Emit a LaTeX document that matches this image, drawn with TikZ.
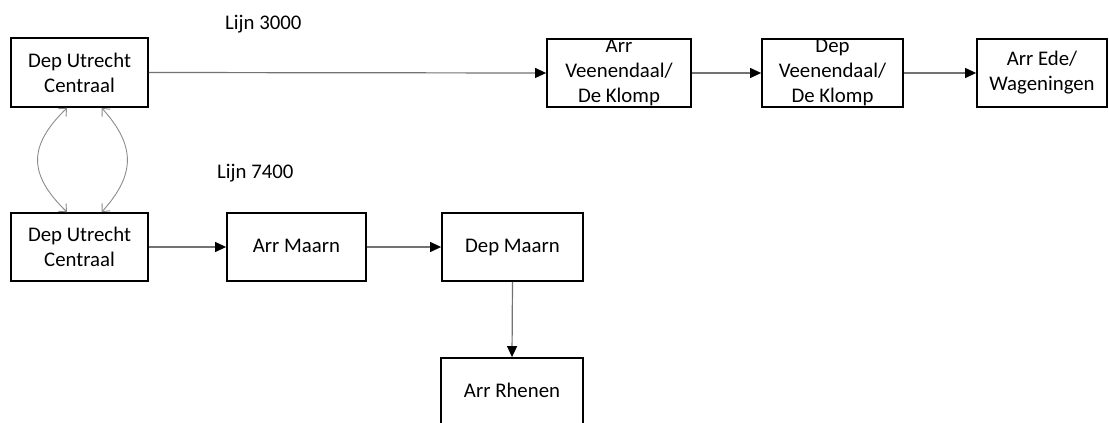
\documentclass[tikz,border=0pt]{standalone}
\usepackage{fontspec}
\setmainfont{Carlito}
\usetikzlibrary{arrows.meta,calc}
\begin{document}
\begin{tikzpicture}[x=1pt,y=-1pt,
  every node/.style={font=\fontsize{20.8}{25}\selectfont},
  stbox/.style={draw=black, line width=1.8pt, minimum height=68pt, inner sep=0pt, align=center},
  flow/.style={draw=black!55, line width=1.2pt, -{Triangle[length=11pt,width=10pt,color=black]}},
  link/.style={draw=black!45, line width=0.9pt, {Straight Barb[length=6pt,width=11pt]}-{Straight Barb[length=6pt,width=11pt]}},
  lbl/.style={anchor=base west, inner sep=0pt}]
\clip (0,0) rectangle (1109,423);
\fill[white] (0,0) rectangle (1109,423);

\node[stbox, minimum width=137pt, minimum height=69pt] (uc1) at (79.5,72.5) {Dep Utrecht\\Centraal};
\node[stbox, minimum width=144pt] (av) at (619,73) {Arr\\Veenendaal/\\De Klomp};
\node[stbox, minimum width=141pt] (dv) at (832.5,73) {Dep\\Veenendaal/\\De Klomp};
\node[stbox, minimum width=130pt] (ae) at (1042,73) {Arr Ede/\\Wageningen};

\node[stbox, minimum width=137pt] (uc2) at (79.5,247) {Dep Utrecht\\Centraal};
\node[stbox, minimum width=139pt] (am) at (296.5,247) {\strut Arr Maarn};
\node[stbox, minimum width=141pt] (dm) at (512.5,247) {\strut Dep Maarn};
\node[stbox, minimum width=142pt] (ar) at (512,392) {\strut Arr Rhenen};

\node[lbl] (l3000) at (225,29) {Lijn 3000};
\node[lbl] (l7400) at (217,178) {Lijn 7400};

\draw[flow] (uc1.east) -- (av.west);
\draw[flow] (av.east) -- (dv.west);
\draw[flow] (dv.east) -- (ae.west);
\draw[flow] (uc2.east) -- (am.west);
\draw[flow] (am.east) -- (dm.west);
\draw[flow] (dm.south) -- (ar.north);

\coordinate (c1a) at ($(uc1.south west)!0.41!(uc1.south east)$);
\coordinate (c1b) at ($(uc2.north west)!0.41!(uc2.north east)$);
\coordinate (c2a) at ($(uc1.south west)!0.66!(uc1.south east)$);
\coordinate (c2b) at ($(uc2.north west)!0.66!(uc2.north east)$);
\draw[link] (c1a) .. controls +(-39,38) and +(-39,-38) .. (c1b);
\draw[link] (c2a) .. controls +(34,38) and +(34,-38) .. (c2b);
\end{tikzpicture}
\end{document}
